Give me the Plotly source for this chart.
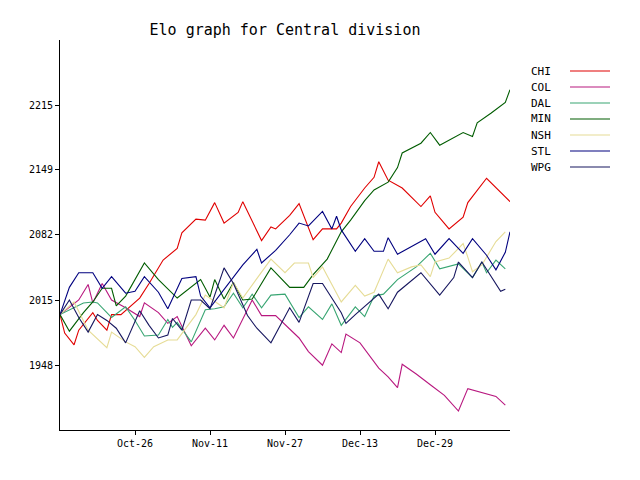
import pandas as pd
import plotly.graph_objects as go

SEASON_START = "2018-10-10"

teams = ["CHI", "COL", "DAL", "MIN", "NSH", "STL", "WPG"]
colors = ["#e00000", "#b8187f", "#38a572", "#005c00", "#e6dc96", "#00007f", "#16165f"]

# day of season (days since SEASON_START) and Elo rating
chi_days = [0, 1, 3, 4, 7, 8, 10, 11, 13, 15, 17, 19, 22, 25, 26, 29, 31, 33, 35, 38, 39, 43, 45, 46, 49, 51, 54, 56, 59, 60, 62, 65, 67, 68, 70, 73, 77, 79, 80, 83, 86, 87, 91, 96]
chi_elo = [2000, 1981, 1969, 1984, 2002, 1994, 1984, 2000, 2000, 2008, 2017, 2032, 2056, 2068, 2084, 2098, 2097, 2115, 2094, 2105, 2116, 2076, 2090, 2088, 2102, 2114, 2077, 2088, 2088, 2094, 2111, 2130, 2141, 2157, 2138, 2130, 2111, 2122, 2105, 2088, 2100, 2115, 2140, 2116]

col_days = [0, 4, 6, 7, 9, 11, 14, 17, 18, 21, 23, 25, 28, 31, 33, 35, 37, 41, 43, 46, 51, 53, 56, 58, 60, 61, 64, 68, 70, 72, 73, 76, 79, 82, 85, 87, 93, 95]
col_elo = [2000, 2015, 2031, 2012, 2032, 2015, 2007, 1998, 2012, 2002, 1991, 1998, 1968, 1986, 1974, 1989, 1976, 2015, 1999, 1999, 1976, 1962, 1948, 1970, 1961, 1980, 1971, 1945, 1936, 1925, 1949, 1939, 1928, 1917, 1901, 1924, 1916, 1907]

dal_days = [0, 2, 5, 7, 8, 10, 11, 14, 16, 18, 21, 23, 24, 25, 28, 31, 33, 35, 37, 39, 41, 43, 45, 48, 51, 53, 56, 58, 60, 63, 65, 67, 69, 72, 76, 79, 81, 85, 88, 90, 91, 93, 95]
dal_elo = [2000, 2005, 2012, 2013, 2012, 2002, 1997, 2008, 1994, 1978, 1979, 1995, 1987, 1992, 1972, 2005, 2006, 2008, 2022, 2007, 2021, 2007, 2020, 2021, 1997, 2008, 1995, 2011, 1989, 2008, 1998, 2019, 2021, 2036, 2049, 2063, 2047, 2052, 2038, 2054, 2043, 2056, 2047]

min_days = [0, 2, 5, 7, 9, 11, 12, 14, 18, 21, 25, 30, 32, 33, 35, 37, 39, 41, 45, 49, 52, 54, 57, 60, 62, 65, 67, 70, 72, 73, 77, 79, 81, 86, 88, 89, 92, 95, 96]
min_elo = [2000, 1983, 2002, 2013, 2027, 2027, 2009, 2019, 2053, 2036, 2017, 2036, 2018, 2036, 2016, 2033, 2015, 2016, 2048, 2028, 2028, 2041, 2057, 2085, 2097, 2117, 2128, 2136, 2151, 2166, 2176, 2187, 2174, 2187, 2183, 2197, 2207, 2218, 2231]

nsh_days = [0, 3, 6, 10, 11, 14, 16, 18, 20, 23, 25, 29, 31, 35, 37, 39, 45, 48, 50, 53, 54, 56, 60, 63, 65, 67, 70, 72, 75, 77, 79, 80, 83, 86, 87, 88, 90, 93, 95]
nsh_elo = [2000, 2013, 1984, 1966, 1982, 1972, 1967, 1956, 1967, 1974, 1974, 2000, 2020, 2007, 2033, 2017, 2057, 2043, 2053, 2053, 2038, 2049, 2013, 2030, 2019, 2023, 2057, 2043, 2049, 2051, 2039, 2054, 2058, 2073, 2059, 2044, 2051, 2075, 2085]

stl_days = [0, 2, 4, 7, 9, 11, 14, 16, 18, 21, 23, 26, 29, 30, 32, 38, 39, 42, 43, 46, 49, 51, 53, 56, 58, 59, 60, 63, 65, 67, 69, 70, 72, 78, 80, 83, 86, 88, 91, 93, 95, 96]
stl_elo = [2000, 2028, 2043, 2043, 2027, 2039, 2022, 2024, 2039, 2023, 2006, 2037, 2039, 2019, 2007, 2045, 2051, 2067, 2053, 2066, 2082, 2094, 2091, 2106, 2088, 2101, 2087, 2065, 2078, 2065, 2065, 2079, 2062, 2078, 2062, 2078, 2063, 2078, 2061, 2046, 2064, 2085]

wpg_days = [0, 2, 4, 6, 8, 10, 12, 14, 17, 19, 21, 23, 24, 26, 28, 30, 32, 35, 37, 40, 42, 45, 49, 51, 54, 56, 60, 61, 63, 68, 70, 72, 77, 81, 84, 85, 88, 90, 94, 95]
wpg_elo = [2000, 2015, 1997, 1982, 2000, 1994, 1986, 1971, 2004, 1989, 1976, 1979, 1996, 1984, 2015, 2015, 2006, 2048, 2032, 1999, 1986, 1971, 2007, 1992, 2032, 2032, 2002, 1991, 2000, 2021, 2006, 2023, 2043, 2020, 2038, 2054, 2038, 2054, 2024, 2026]

ytick_vals = [1948, 2015, 2082, 2149, 2215]
xtick_dates = ["2018-10-26", "2018-11-11", "2018-11-27", "2018-12-13", "2018-12-29"]
x_range = ["2018-10-10", "2019-01-14"]
y_range = [1881.5, 2282]

series = [
    (chi_days, chi_elo), (col_days, col_elo), (dal_days, dal_elo), (min_days, min_elo),
    (nsh_days, nsh_elo), (stl_days, stl_elo), (wpg_days, wpg_elo),
]

FONT = "DejaVu Sans Mono"
start = pd.Timestamp(SEASON_START)

fig = go.Figure()
for name, color, (days, elo) in zip(teams, colors, series):
    dates = start + pd.to_timedelta(days, unit="D")
    fig.add_trace(go.Scatter(x=dates, y=elo, mode="lines", name=name,
                             line=dict(color=color, width=1.1), showlegend=False))

# plot area in pixels: x 60..510, y 40..430
L, R, T, B = 60, 510, 40, 430
def px_x(p):
    return (p - L) / (R - L)
def px_y(p):
    return (B - p) / (B - T)

annotations = []
shapes = []
for i, (name, color) in enumerate(zip(teams, colors)):
    yy = 71 + 16 * i
    annotations.append(dict(x=px_x(529), y=px_y(yy), xref="paper", yref="paper",
                            text=name, showarrow=False, xanchor="left", yanchor="middle",
                            font=dict(family=FONT, size=11, color="black")))
    shapes.append(dict(type="line", xref="paper", yref="paper",
                       x0=px_x(570), x1=px_x(610), y0=px_y(yy), y1=px_y(yy),
                       line=dict(color=color, width=1.1)))

fig.update_layout(
    width=640, height=480,
    margin=dict(l=L, r=640 - R, t=T, b=480 - B),
    paper_bgcolor="white", plot_bgcolor="white",
    title=dict(text="Elo graph for Central division", x=(L + R) / 2 / 640, xanchor="center",
               y=1 - 30 / 480, yanchor="middle",
               font=dict(family=FONT, size=15, color="black")),
    font=dict(family=FONT, size=10, color="black"),
    annotations=annotations, shapes=shapes,
    showlegend=False,
)
fig.update_xaxes(type="date", range=x_range, tickvals=xtick_dates, tickformat="%b-%d",
                 showgrid=False, zeroline=False, showline=True, linecolor="black", linewidth=1,
                 ticks="outside", ticklen=4, tickcolor="black", mirror=False,
                 tickfont=dict(family=FONT, size=10))
fig.update_yaxes(range=y_range, tickvals=ytick_vals, showgrid=False, zeroline=False,
                 showline=True, linecolor="black", linewidth=1, ticks="outside", ticklen=4,
                 tickcolor="black", tickfont=dict(family=FONT, size=10))

fig.write_html("out.html", config={"displayModeBar": False},
               post_script="document.body.style.margin='0';")
